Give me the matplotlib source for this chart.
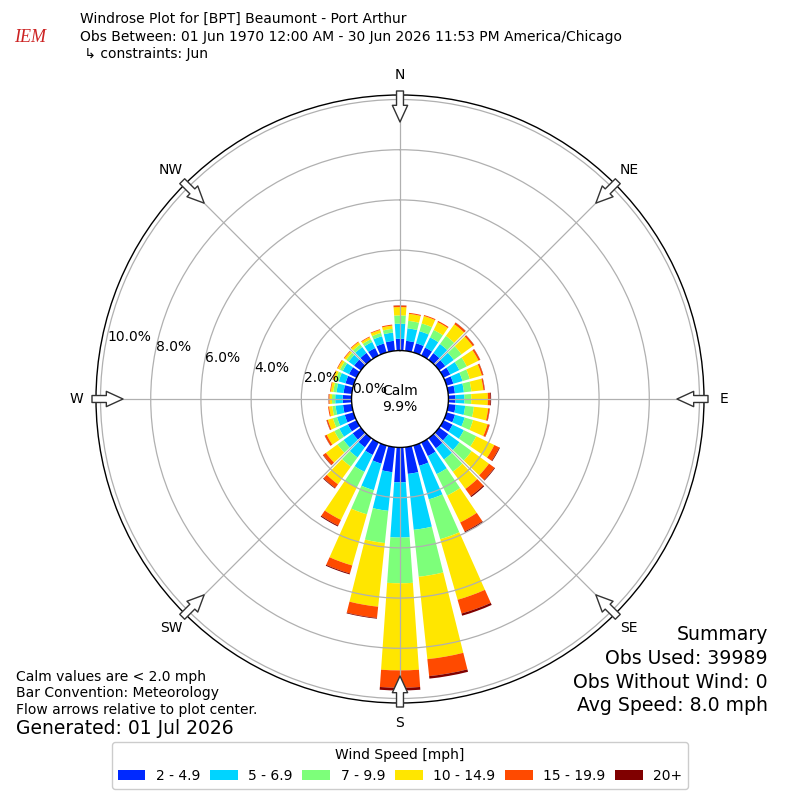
import numpy as np
import matplotlib
matplotlib.use("Agg")
import matplotlib.pyplot as plt

# ── Wind rose data (percent of obs), 10 degree bins ───
directions = np.arange(0, 360, 10)

speed_labels = ["2 - 4.9", "5 - 6.9", "7 - 9.9", "10 - 14.9", "15 - 19.9", "20+"]
speed_colors = ["#0029ff", "#00d4ff", "#7dff7a", "#ffe600", "#ff4a00", "#800000"]

pct_2_5 = [0.47, 0.40, 0.38, 0.35, 0.33, 0.30, 0.30, 0.28, 0.27, 0.28, 0.30, 0.35,
           0.40, 0.45, 0.50, 0.60, 0.84, 1.07, 1.39, 1.00, 0.75, 0.55, 0.45, 0.40,
           0.38, 0.36, 0.35, 0.35, 0.33, 0.33, 0.33, 0.33, 0.34, 0.33, 0.37, 0.40]
pct_5_7 = [0.60, 0.50, 0.50, 0.45, 0.45, 0.42, 0.40, 0.38, 0.36, 0.36, 0.38, 0.40,
           0.50, 0.55, 0.55, 0.80, 1.39, 2.24, 2.20, 1.55, 1.10, 0.75, 0.50, 0.45,
           0.38, 0.32, 0.30, 0.30, 0.28, 0.28, 0.28, 0.27, 0.29, 0.27, 0.30, 0.33]
pct_7_10 = [0.33, 0.30, 0.32, 0.33, 0.40, 0.38, 0.33, 0.30, 0.30, 0.27, 0.35, 0.35,
            0.55, 0.60, 0.60, 0.95, 1.65, 1.88, 1.82, 1.29, 1.00, 0.70, 0.45, 0.30,
            0.22, 0.17, 0.13, 0.13, 0.13, 0.13, 0.12, 0.12, 0.13, 0.12, 0.14, 0.15]
pct_10_15 = [0.33, 0.28, 0.31, 0.35, 0.57, 0.55, 0.52, 0.50, 0.48, 0.66, 0.57, 0.60,
             0.80, 0.85, 0.85, 1.19, 2.51, 3.30, 3.47, 2.55, 2.12, 1.43, 0.87, 0.57,
             0.34, 0.21, 0.13, 0.10, 0.10, 0.10, 0.10, 0.09, 0.11, 0.09, 0.12, 0.13]
pct_15_20 = [0.06, 0.04, 0.04, 0.05, 0.08, 0.07, 0.07, 0.06, 0.05, 0.10, 0.06, 0.08,
             0.22, 0.27, 0.35, 0.40, 0.57, 0.68, 0.69, 0.45, 0.33, 0.25, 0.18, 0.13,
             0.08, 0.05, 0.04, 0.03, 0.03, 0.03, 0.03, 0.03, 0.03, 0.03, 0.03, 0.04]
pct_20 = [0.01, 0.00, 0.00, 0.00, 0.01, 0.01, 0.01, 0.01, 0.01, 0.03, 0.01, 0.01,
          0.03, 0.03, 0.05, 0.05, 0.09, 0.10, 0.11, 0.03, 0.04, 0.04, 0.03, 0.02,
          0.01, 0.01, 0.00, 0.01, 0.00, 0.00, 0.00, 0.00, 0.00, 0.00, 0.00, 0.00]

speed_bins = [pct_2_5, pct_5_7, pct_7_10, pct_10_15, pct_15_20, pct_20]

calm_pct = 9.9
ring_values = [0, 2, 4, 6, 8, 10]
compass = ["N", "NE", "E", "SE", "S", "SW", "W", "NW"]

# ── Figure ────────────────────────────────────────────
fig = plt.figure(figsize=(8, 8), dpi=100)
ax = fig.add_axes([0.12, 0.12125, 0.76, 0.76], projection="polar")
ax.set_theta_zero_location("N")
ax.set_theta_direction(-1)

theta = np.deg2rad(directions)
bottom = np.zeros(len(directions))
for vals, color, label in zip(speed_bins, speed_colors, speed_labels):
    vals = np.array(vals)
    ax.bar(theta, vals, width=np.deg2rad(8), bottom=bottom,
           color=color, label=label, linewidth=0, zorder=1)
    bottom += vals

rmax = 10.18
rorg = -1.93
ax.set_ylim(0, rmax)
ax.set_rorigin(rorg)

# grid
ax.set_xticks(np.deg2rad(np.arange(0, 360, 45)))
ax.set_xticklabels([])
ax.set_yticks(ring_values[1:])
ax.set_yticklabels([])
ax.grid(True, color="#b0b0b0", linewidth=0.9)
for sp in ax.spines.values():
    sp.set_linewidth(1.0)
    sp.set_color("black")

# radial labels
for r in ring_values:
    ax.text(np.deg2rad(282), r, f"{r:.1f}%", ha="left", va="center",
            fontsize=10)

# compass labels + flow arrows
px_per_pct = 304 / (rmax - rorg)
r_lab = rorg + 324 / px_per_pct
r_tip = rorg + 277 / px_per_pct
r_tail = rorg + 308 / px_per_pct
for i, name in enumerate(compass):
    t = np.deg2rad(i * 45)
    ax.text(t, r_lab, name, ha="center", va="center", fontsize=10)
    ax.annotate("", xy=(t, r_tip), xytext=(t, r_tail),
                arrowprops=dict(arrowstyle="simple,head_length=1.2,head_width=1.1,tail_width=0.5",
                                mutation_scale=10, fc="white", ec="#333333",
                                lw=1, shrinkA=0, shrinkB=0),
                annotation_clip=False, zorder=5)

ax.text(0.5, 0.5, f"Calm\n{calm_pct:.1f}%", transform=ax.transAxes,
        ha="center", va="center", fontsize=10)

# ── Header ────────────────────────────────────────────
fig.text(30 / 800, 1 - 38 / 800, "IEM", color="#cc2222", fontsize=13,
         family="Liberation Serif", style="italic", ha="center", va="center")
fig.text(80 / 800, 1 - 19 / 800, "Windrose Plot for [BPT] Beaumont - Port Arthur",
         fontsize=10, va="center")
fig.text(80 / 800, 1 - 37 / 800,
         "Obs Between: 01 Jun 1970 12:00 AM - 30 Jun 2026 11:53 PM America/Chicago",
         fontsize=10, va="center")
fig.text(80 / 800, 1 - 54 / 800, " \u21b3 constraints: Jun", fontsize=10, va="center")

# ── Footer notes ──────────────────────────────────────
fig.text(16 / 800, 1 - 677 / 800, "Calm values are < 2.0 mph", fontsize=10, va="center")
fig.text(16 / 800, 1 - 693 / 800, "Bar Convention: Meteorology", fontsize=10, va="center")
fig.text(16 / 800, 1 - 710 / 800, "Flow arrows relative to plot center.", fontsize=10, va="center")
fig.text(16 / 800, 1 - 729 / 800, "Generated: 01 Jul 2026", fontsize=13.5, va="center")

summary = ["Summary", "Obs Used: 39989", "Obs Without Wind: 0", "Avg Speed: 8.0 mph"]
for i, line in enumerate(summary):
    fig.text(768 / 800, 1 - (635 + 23.5 * i) / 800, line, fontsize=13.6,
             ha="right", va="center")

fig.legend(loc="center", bbox_to_anchor=(0.5, 1 - 765.5 / 800), ncol=6,
           title="Wind Speed [mph]", fontsize=10, title_fontsize=10,
           columnspacing=0.7, handletextpad=0.75, handlelength=2.0,
           framealpha=1, edgecolor="#cccccc")

fig.savefig("out.png", dpi=100)
